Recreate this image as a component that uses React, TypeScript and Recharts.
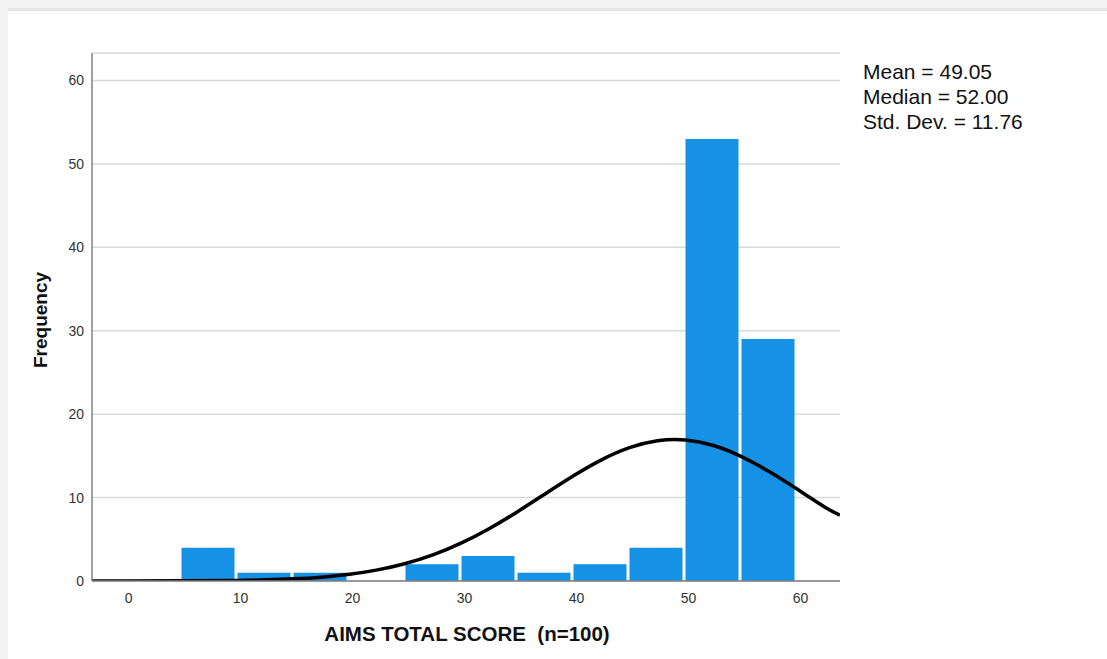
import { ComposedChart, Bar, Line, XAxis, YAxis, CartesianGrid } from 'recharts';

// histogram bins (width 5) and their frequencies
const binLabels = ['0-5', '5-10', '10-15', '15-20', '20-25', '25-30', '30-35', '35-40', '40-45', '45-50', '50-55', '55-60'];
const binCounts = [0, 4, 1, 1, 0, 2, 3, 1, 2, 4, 53, 29];

// normal curve
const curveX = [-3, 0, 5, 10, 12.5, 15, 17.5, 20, 22.5, 25, 27.5, 30, 32.5, 35, 37.5, 40, 42.5, 45, 47.5, 50, 52.5, 55, 57.5, 60, 62.5, 63.8];
const curveY = [0, 0, 0.02, 0.07, 0.14, 0.26, 0.46, 0.8, 1.33, 2.1, 3.16, 4.57, 6.3, 8.31, 10.47, 12.61, 14.52, 15.98, 16.81, 16.91, 16.25, 14.92, 13.1, 10.99, 8.82, 7.9];

const xTicks = [0, 10, 20, 30, 40, 50, 60];
const yTicks = [0, 10, 20, 30, 40, 50, 60];

const stats = ['Mean = 49.05', 'Median = 52.00', 'Std. Dev. = 11.76'];

const barData = binLabels.map((bin, i) => ({ bin, count: binCounts[i] }));
const curveData = curveX.map((x, i) => ({ x, density: curveY[i] }));

const font = '"Liberation Sans", Arial, sans-serif';

export default function App() {
  return (
    <div style={{ position: 'absolute', left: 0, top: 0, width: 1107, height: 659, background: '#f3f3f3', overflow: 'hidden' }}>
      <div style={{ position: 'absolute', left: 8, top: 8, width: 1099, height: 651, background: '#fff', borderTop: '3px solid #e6e6e6' }} />
      <div style={{ position: 'absolute', left: 0, top: 0 }}>
        <ComposedChart
          width={1107}
          height={659}
          data={barData}
          margin={{ top: 53, right: 267, bottom: 48, left: 52 }}
          barCategoryGap={1.5}
          style={{ fontFamily: font }}
        >
          <CartesianGrid xAxisId="num" vertical={false} stroke="#d9d9d9" strokeWidth={1.5} />
          <XAxis xAxisId="bins" dataKey="bin" type="category" hide height={0} padding={{ left: 32, right: 44 }} />
          <XAxis
            xAxisId="num"
            dataKey="x"
            type="number"
            domain={[-3, 63.8]}
            ticks={xTicks}
            allowDataOverflow
            height={30}
            tickLine={false}
            tickMargin={6}
            axisLine={{ stroke: '#808080', strokeWidth: 1.5 }}
            tick={{ fill: '#333', fontSize: 14, fontFamily: font, dx: 3 }}
          />
          <YAxis
            type="number"
            domain={[0, 63.3]}
            ticks={yTicks}
            allowDataOverflow
            width={40}
            tickLine={false}
            axisLine={{ stroke: '#808080', strokeWidth: 1.5 }}
            tick={{ fill: '#333', fontSize: 14, fontFamily: font }}
          />
          <Bar xAxisId="bins" dataKey="count" fill="#1591e6" isAnimationActive={false} />
          <Line
            xAxisId="num"
            data={curveData}
            dataKey="density"
            type="natural"
            stroke="#000"
            strokeWidth={3.5}
            dot={false}
            activeDot={false}
            isAnimationActive={false}
          />
        </ComposedChart>
      </div>
      <div
        style={{
          position: 'absolute',
          left: 41,
          top: 320,
          transform: 'translate(-50%, -50%) rotate(-90deg)',
          fontFamily: font,
          fontWeight: 'bold',
          fontSize: 19,
          color: '#111',
          whiteSpace: 'nowrap',
        }}
      >
        Frequency
      </div>
      <div
        style={{
          position: 'absolute',
          left: 467,
          top: 634,
          transform: 'translate(-50%, -50%)',
          fontFamily: font,
          fontWeight: 'bold',
          fontSize: 20.5,
          color: '#111',
          whiteSpace: 'pre',
        }}
      >
        {'AIMS TOTAL SCORE  (n=100)'}
      </div>
      <div style={{ position: 'absolute', left: 863, top: 59, fontFamily: font, fontSize: 21, lineHeight: '25px', color: '#111' }}>
        {stats.map((s) => (
          <div key={s}>{s}</div>
        ))}
      </div>
    </div>
  );
}
